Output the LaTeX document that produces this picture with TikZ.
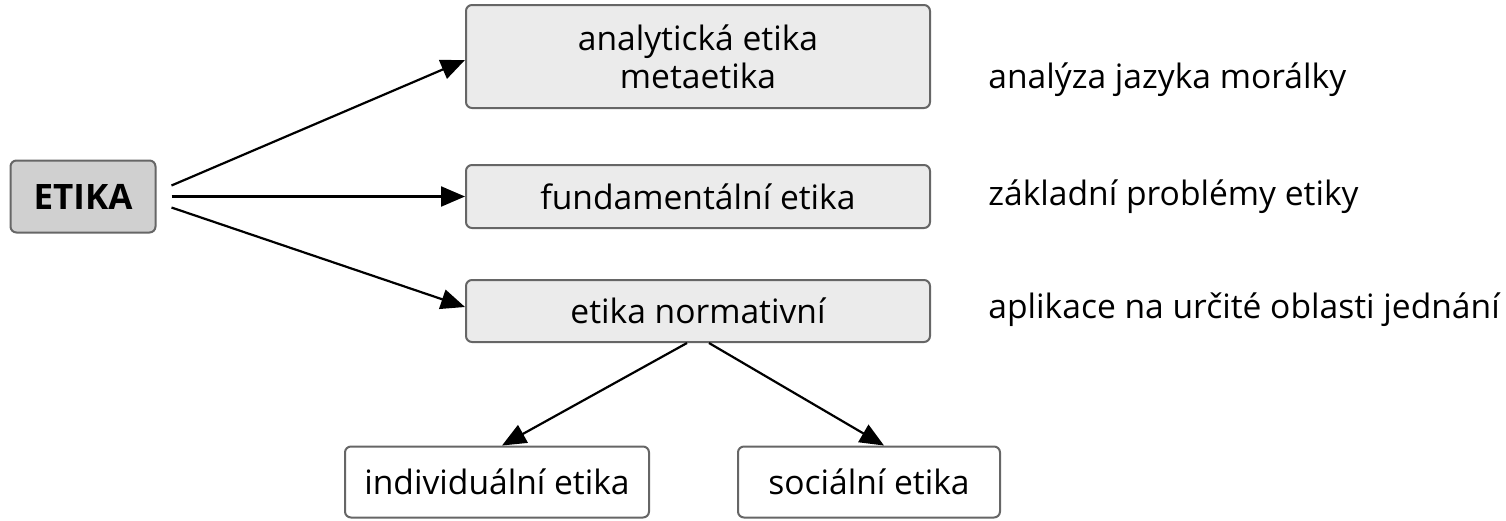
\documentclass[tikz,border=0pt]{standalone}
\usepackage{fontspec}
\setmainfont{Open Sans}
\usetikzlibrary{arrows.meta,calc}
\definecolor{boxgray}{HTML}{EBEBEB}
\definecolor{darkgray}{HTML}{D0D0D0}
\definecolor{edgegray}{HTML}{666666}
\begin{document}
\begin{tikzpicture}[x=0.5pt,y=-0.5pt,
  box/.style={draw=edgegray, line width=1pt, rounded corners=3pt, fill=boxgray,
    inner sep=0pt, align=center, font=\fontsize{16.8}{19}\selectfont},
  note/.style={anchor=west, inner sep=0pt, font=\fontsize{16.8}{19}\selectfont},
  arr/.style={line width=1.1pt, -{Triangle[length=12pt,width=10pt]}}]
\useasboundingbox (0,0) rectangle (1506,520);
\node[box, fill=darkgray, minimum width=72.5pt, minimum height=36pt, font=\fontsize{17.5}{19}\selectfont\bfseries] (etika) at (83,196.5) {ETIKA};
\node[box, minimum width=232pt, minimum height=51.5pt] (ana) at (698,56.5) {analytická etika\\metaetika};
\node[box, minimum width=232pt, minimum height=31.5pt] (fund) at (698,196.5) {fundamentální etika};
\node[box, minimum width=232pt, minimum height=31pt] (norm) at (698,311) {etika normativní};
\node[box, fill=white, minimum width=152pt, minimum height=35.5pt] (indiv) at (497,482) {individuální etika};
\node[box, fill=white, minimum width=131pt, minimum height=35.5pt] (soc) at (869,482) {sociální etika};
\node[note] (n1) at (988,80) {analýza jazyka morálky};
\node[note] (n2) at (988,197) {základní problémy etiky};
\node[note] (n3) at (988,310) {aplikace na určité oblasti jednání};
\draw[arr] ($(etika.east)+(7.5pt,5.5pt)$) -- ($(ana.west)+(0,-1.75pt)$);
\draw[arr] ($(etika.east)+(7.5pt,0)$) -- (fund.west);
\draw[arr] ($(etika.east)+(7.5pt,-5.5pt)$) -- ($(norm.west)+(0,2pt)$);
\draw[arr] ($(norm.south)+(-5.5pt,0)$) -- ($(indiv.north)+(2.5pt,0)$);
\draw[arr] ($(norm.south)+(5.5pt,0)$) -- ($(soc.north)+(7.5pt,0)$);
\end{tikzpicture}
\end{document}
